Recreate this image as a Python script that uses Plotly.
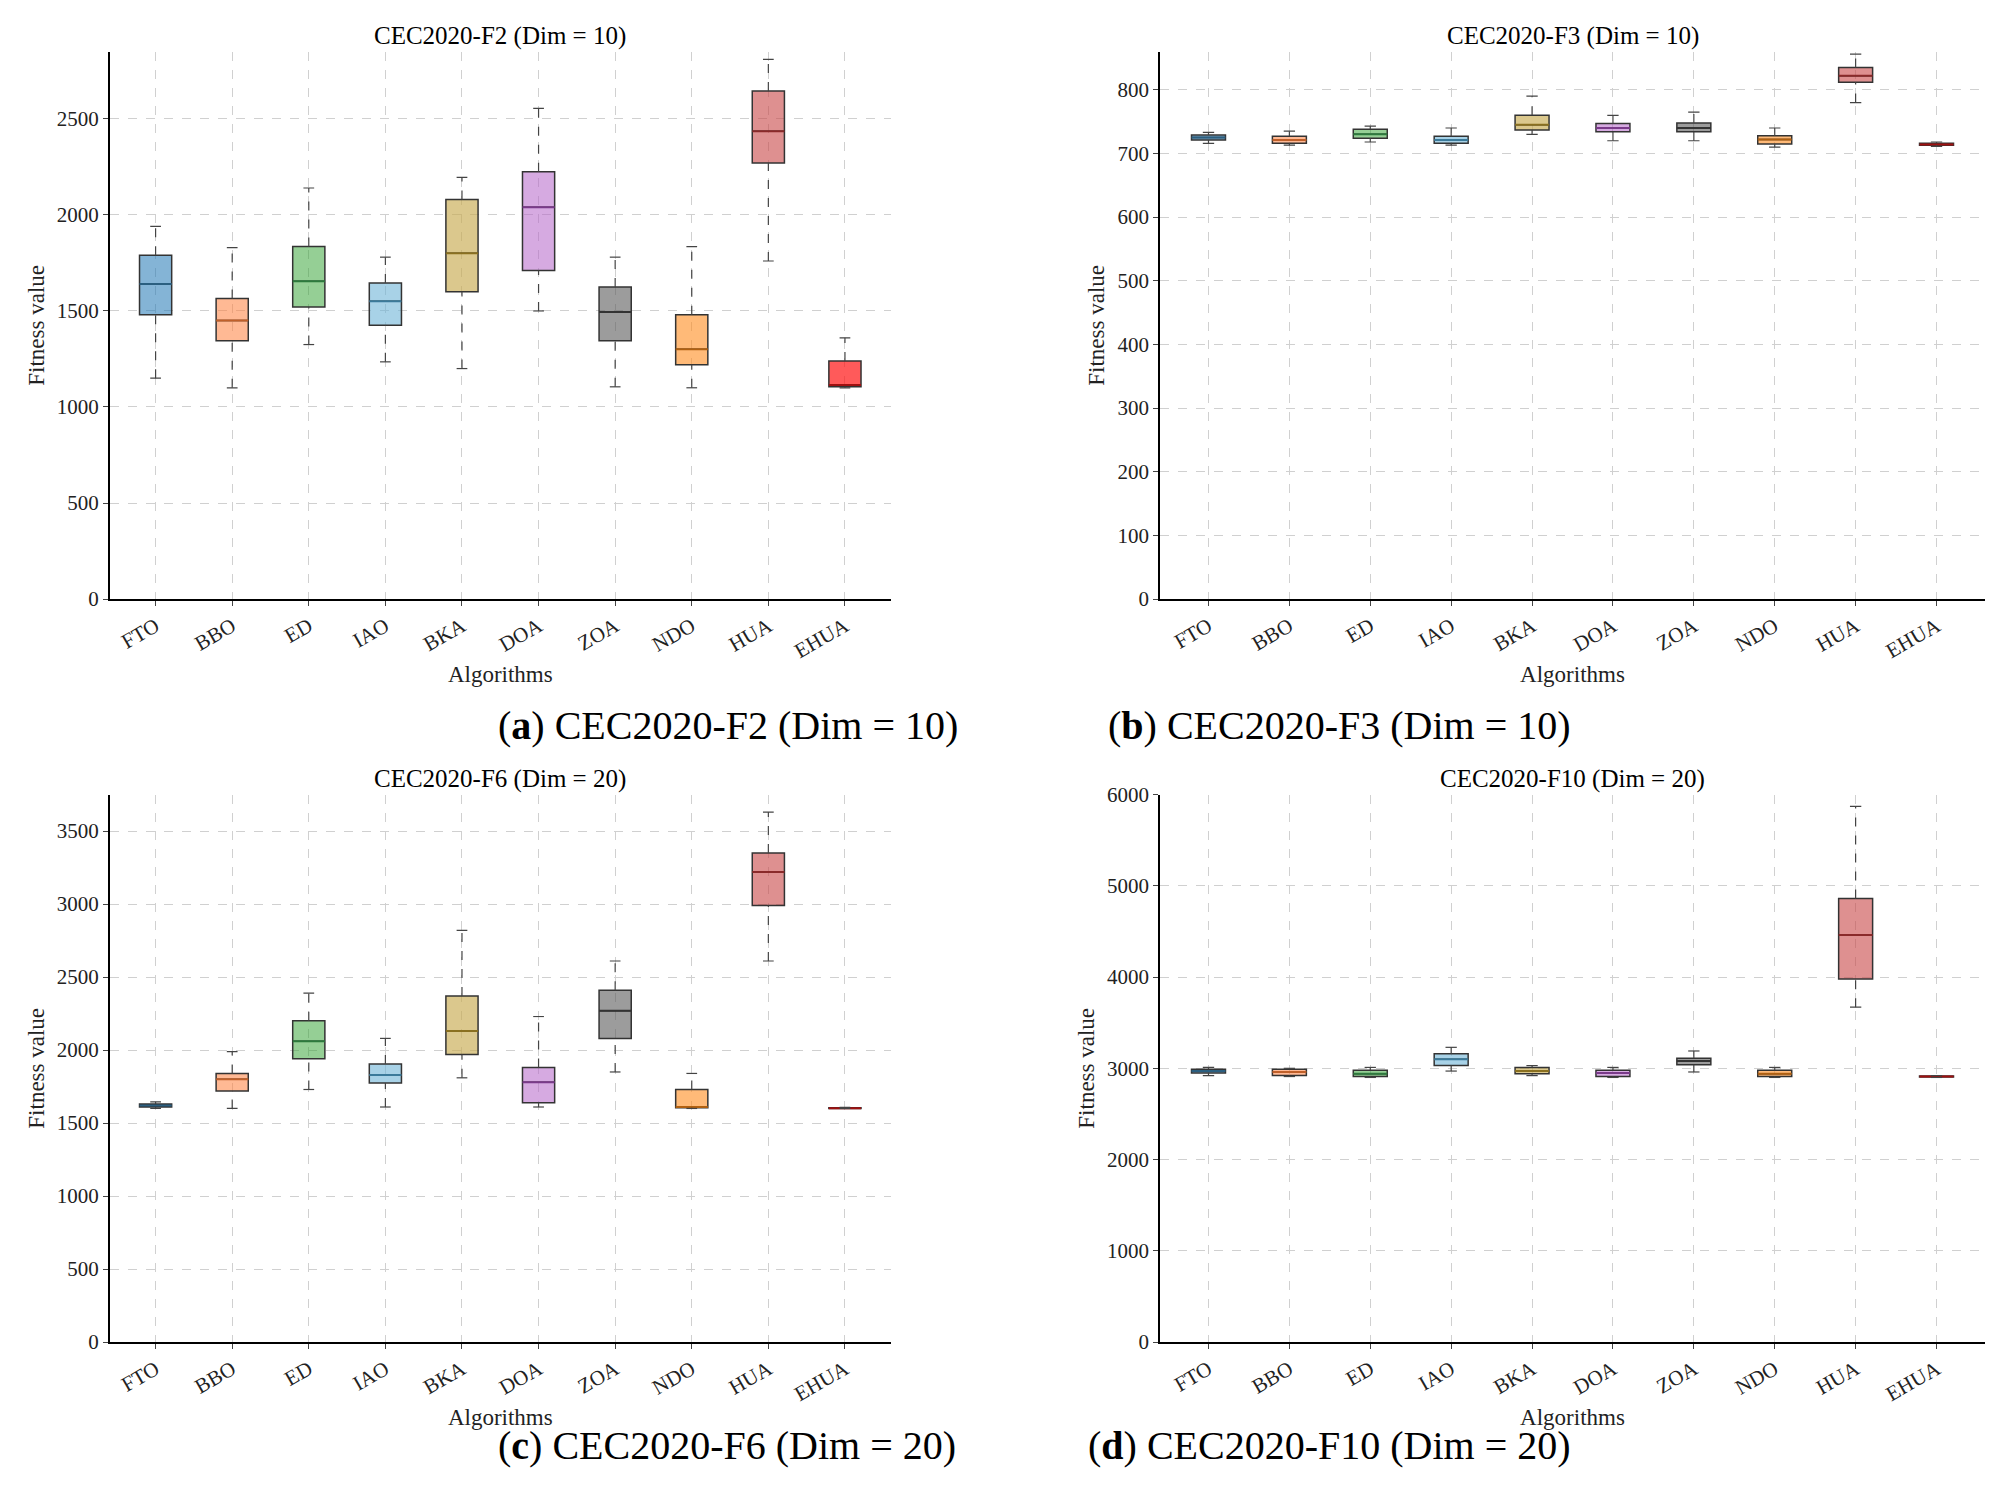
import plotly.graph_objs as go
from plotly.subplots import make_subplots

algos = ["FTO", "BBO", "ED", "IAO", "BKA", "DOA", "ZOA", "NDO", "HUA", "EHUA"]
colors = ["rgba(31,119,180,0.55)", "rgba(255,127,60,0.55)", "rgba(44,160,44,0.5)",
          "rgba(110,180,215,0.6)", "rgba(200,170,80,0.65)", "rgba(180,100,200,0.55)",
          "rgba(90,90,90,0.6)", "rgba(255,140,30,0.6)", "rgba(200,70,70,0.6)",
          "rgba(255,20,20,0.7)"]
medcols = ["#2b5f80", "#c0602a", "#2d7a3d", "#3b7a9a", "#8a7020", "#7a3a8a",
           "#333333", "#b06010", "#8a2a2a", "#a01010"]

# (q1, median, q3, lower whisker, upper whisker)
panels = {
    "CEC2020-F2 (Dim = 10)": [
        (1480, 1640, 1790, 1150, 1940), (1345, 1450, 1565, 1100, 1830),
        (1520, 1655, 1835, 1325, 2140), (1425, 1550, 1645, 1235, 1780),
        (1600, 1800, 2080, 1200, 2195), (1710, 2040, 2225, 1500, 2555),
        (1345, 1495, 1625, 1105, 1780), (1220, 1300, 1480, 1100, 1835),
        (2270, 2435, 2645, 1760, 2810), (1105, 1115, 1240, 1100, 1360)],
    "CEC2020-F3 (Dim = 10)": [
        (721, 725, 729, 716, 733), (716, 721, 727, 713, 735),
        (724, 730, 738, 718, 743), (716, 721, 727, 713, 740),
        (737, 745, 760, 730, 790), (734, 740, 747, 720, 760),
        (734, 740, 748, 720, 765), (715, 722, 728, 710, 740),
        (812, 822, 835, 780, 856), (713, 714, 716, 711, 718)],
    "CEC2020-F6 (Dim = 20)": [
        (1610, 1620, 1630, 1600, 1645), (1720, 1800, 1840, 1600, 1990),
        (1940, 2060, 2200, 1730, 2390), (1775, 1830, 1905, 1610, 2080),
        (1970, 2130, 2370, 1810, 2820), (1640, 1780, 1880, 1610, 2230),
        (2080, 2270, 2410, 1850, 2610), (1605, 1610, 1730, 1600, 1840),
        (2990, 3220, 3350, 2610, 3630), (1600, 1602, 1605, 1600, 1608)],
    "CEC2020-F10 (Dim = 20)": [
        (2950, 2970, 2990, 2920, 3010), (2920, 2960, 2990, 2910, 3000),
        (2910, 2940, 2980, 2900, 3010), (3030, 3100, 3160, 2970, 3230),
        (2940, 2970, 3010, 2920, 3030), (2910, 2950, 2980, 2900, 3010),
        (3040, 3080, 3110, 2960, 3190), (2910, 2940, 2980, 2900, 3010),
        (3980, 4460, 4860, 3670, 5870), (2905, 2910, 2915, 2900, 2920)],
}
yinfo = [(2850, 500), (860, 100), (3750, 500), (6000, 1000)]
letters = ["a", "b", "c", "d"]
xdoms = [[0.051, 0.443], [0.578, 0.992]]
ydoms = [[0.607, 0.971], [0.113, 0.477]]

fig = make_subplots(rows=2, cols=2, subplot_titles=list(panels.keys()))

for k, (title, stats) in enumerate(panels.items()):
    r, c = k // 2 + 1, k % 2 + 1
    wx, wy, cx, cy = [], [], [], []
    for i, (q1, med, q3, lo, hi) in enumerate(stats):
        fig.add_trace(go.Box(x=[i], q1=[q1], median=[med], q3=[q3], lowerfence=[q1],
                             upperfence=[q3], width=0.42, fillcolor=colors[i],
                             line=dict(color="#333333", width=1.5), showlegend=False,
                             hoverinfo="skip"), row=r, col=c)
        fig.add_trace(go.Scatter(x=[i - 0.21, i + 0.21], y=[med, med], mode="lines",
                                 line=dict(color=medcols[i], width=2), showlegend=False),
                      row=r, col=c)
        wx += [i, i, None, i, i, None]
        wy += [lo, q1, None, q3, hi, None]
        cx += [i - 0.07, i + 0.07, None, i - 0.07, i + 0.07, None]
        cy += [lo, lo, None, hi, hi, None]
    fig.add_trace(go.Scatter(x=wx, y=wy, mode="lines", showlegend=False,
                             line=dict(color="#444444", width=1.2, dash="dash")), row=r, col=c)
    fig.add_trace(go.Scatter(x=cx, y=cy, mode="lines", showlegend=False,
                             line=dict(color="#444444", width=1.2)), row=r, col=c)
    ymax, dt = yinfo[k]
    fig.update_xaxes(tickmode="array", tickvals=list(range(10)), ticktext=algos,
                     tickangle=-30, range=[-0.6, 9.6], title_text="Algorithms",
                     domain=xdoms[c - 1], row=r, col=c)
    fig.update_yaxes(range=[0, ymax], dtick=dt, title_text="Fitness value",
                     domain=ydoms[r - 1], row=r, col=c)

fig.update_xaxes(showline=True, linecolor="black", linewidth=1.5, ticks="outside",
                 showgrid=True, gridcolor="#d0d0d0", griddash="dash", zeroline=False,
                 automargin=False, title_standoff=4, tickfont=dict(size=21),
                 title_font=dict(size=23))
fig.update_yaxes(showline=True, linecolor="black", linewidth=1.5, ticks="outside",
                 showgrid=True, gridcolor="#d0d0d0", griddash="dash", zeroline=False,
                 automargin=False, title_standoff=6, tickfont=dict(size=21),
                 title_font=dict(size=23))

tpos = [(0.247, 0.971), (0.785, 0.971), (0.247, 0.477), (0.785, 0.477)]
for a, (x, y) in zip(fig.layout.annotations, tpos):
    a.font = dict(size=25, family="Liberation Serif", color="black")
    a.x = x
    a.y = y

caps = [(0.245, 0.523), (0.785, 0.523), (0.245, 0.028), (0.785, 0.028)]
for k, title in enumerate(panels.keys()):
    fig.add_annotation(text="(<b>%s</b>) %s" % (letters[k], title), xref="paper",
                       yref="paper", x=caps[k][0], y=caps[k][1], showarrow=False,
                       font=dict(size=40, family="Liberation Serif", color="black"))

fig.update_layout(width=1993, height=1504, plot_bgcolor="white", paper_bgcolor="white",
                  font=dict(family="Liberation Serif", color="#222"),
                  margin=dict(l=0, r=0, t=0, b=0))
fig.write_html("out.html")
